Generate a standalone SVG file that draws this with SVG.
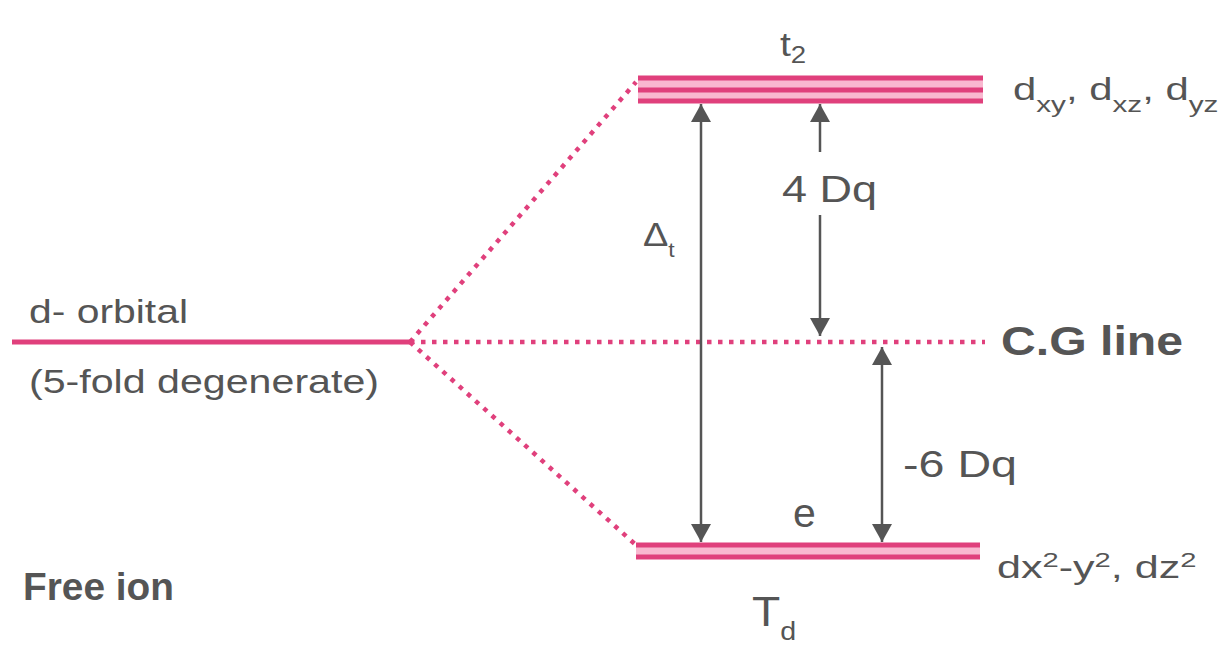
<svg xmlns="http://www.w3.org/2000/svg" width="1226" height="647" viewBox="0 0 1226 647">
<style>
.lvl{stroke:#e0407c;stroke-width:5;fill:none}
.bg{fill:#f9b8d0}
.dot{stroke:#e0407c;stroke-width:4.5;stroke-dasharray:4.5 6.5;fill:none}
.arr{stroke:#555;stroke-width:2.5;fill:none}
text{font-family:"Liberation Sans",Arial,sans-serif;fill:#555}
.t{font-size:33px}
.b{font-weight:bold}
</style>
<defs>
<marker id="ah" viewBox="0 0 10 10" refX="10" refY="5" markerWidth="18" markerHeight="20" markerUnits="userSpaceOnUse" orient="auto-start-reverse" preserveAspectRatio="none">
<path d="M0,0 L10,5 L0,10 z" fill="#555"/>
</marker>
</defs>
<rect width="1226" height="647" fill="#fff"/>
<g id="free-ion">
<line class="lvl" x1="12" y1="342" x2="410" y2="342"/>
<text class="t" x="29" y="323" textLength="159" lengthAdjust="spacingAndGlyphs">d- orbital</text>
<text class="t" x="29" y="393" textLength="350" lengthAdjust="spacingAndGlyphs">(5-fold degenerate)</text>
<text class="b" x="23" y="600" font-size="39" textLength="151" lengthAdjust="spacingAndGlyphs">Free ion</text>
</g>
<g id="t2-level">
<rect class="bg" x="638" y="76" width="345" height="27"/>
<line class="lvl" x1="638" y1="78" x2="983" y2="78"/>
<line class="lvl" x1="638" y1="90" x2="983" y2="90"/>
<line class="lvl" x1="638" y1="101" x2="983" y2="101"/>
<text font-size="34" transform="translate(780,56) scale(1.15,1)">t<tspan font-size="24" dy="7">2</tspan></text>
<text font-size="31" transform="translate(1013,100) scale(1.35,1)">d<tspan font-size="22" dy="12">xy</tspan><tspan dy="-12">, d</tspan><tspan font-size="22" dy="12">xz</tspan><tspan dy="-12">, d</tspan><tspan font-size="22" dy="12">yz</tspan></text>
</g>
<g id="e-level">
<rect class="bg" x="636" y="543" width="344" height="16"/>
<line class="lvl" x1="636" y1="545" x2="980" y2="545"/>
<line class="lvl" x1="636" y1="557" x2="980" y2="557"/>
<text font-size="41" x="793" y="527">e</text>
<text font-size="42" transform="translate(752,626) scale(1.1,1)">T<tspan font-size="26" dy="14">d</tspan></text>
<text font-size="31" transform="translate(997,578) scale(1.39,1)">dx<tspan font-size="21" dy="-11">2</tspan><tspan dy="11">-y</tspan><tspan font-size="21" dy="-11">2</tspan><tspan dy="11">, dz</tspan><tspan font-size="21" dy="-11">2</tspan></text>
</g>
<g id="cg-line">
<text class="b" x="1001" y="355" font-size="40" textLength="182" lengthAdjust="spacingAndGlyphs">C.G line</text>
</g>
<g id="connectors">
<line class="dot" x1="410" y1="342" x2="636" y2="82"/>
<line class="dot" x1="410" y1="342" x2="985" y2="342"/>
<line class="dot" x1="410" y1="342" x2="636" y2="545"/>
<line class="arr" x1="701" y1="104" x2="701" y2="542" marker-start="url(#ah)" marker-end="url(#ah)"/>
<line class="arr" x1="820" y1="104" x2="820" y2="152" marker-start="url(#ah)"/>
<line class="arr" x1="820" y1="215" x2="820" y2="336" marker-end="url(#ah)"/>
<line class="arr" x1="882" y1="347" x2="882" y2="542" marker-start="url(#ah)" marker-end="url(#ah)"/>
<text font-size="33" transform="translate(643,246) scale(1.15,1)">Δ<tspan font-size="20" dy="11">t</tspan></text>
<text font-size="37" x="782" y="202" textLength="95" lengthAdjust="spacingAndGlyphs">4 Dq</text>
<text font-size="37" x="903" y="477" textLength="114" lengthAdjust="spacingAndGlyphs">-6 Dq</text>
</g>
</svg>
